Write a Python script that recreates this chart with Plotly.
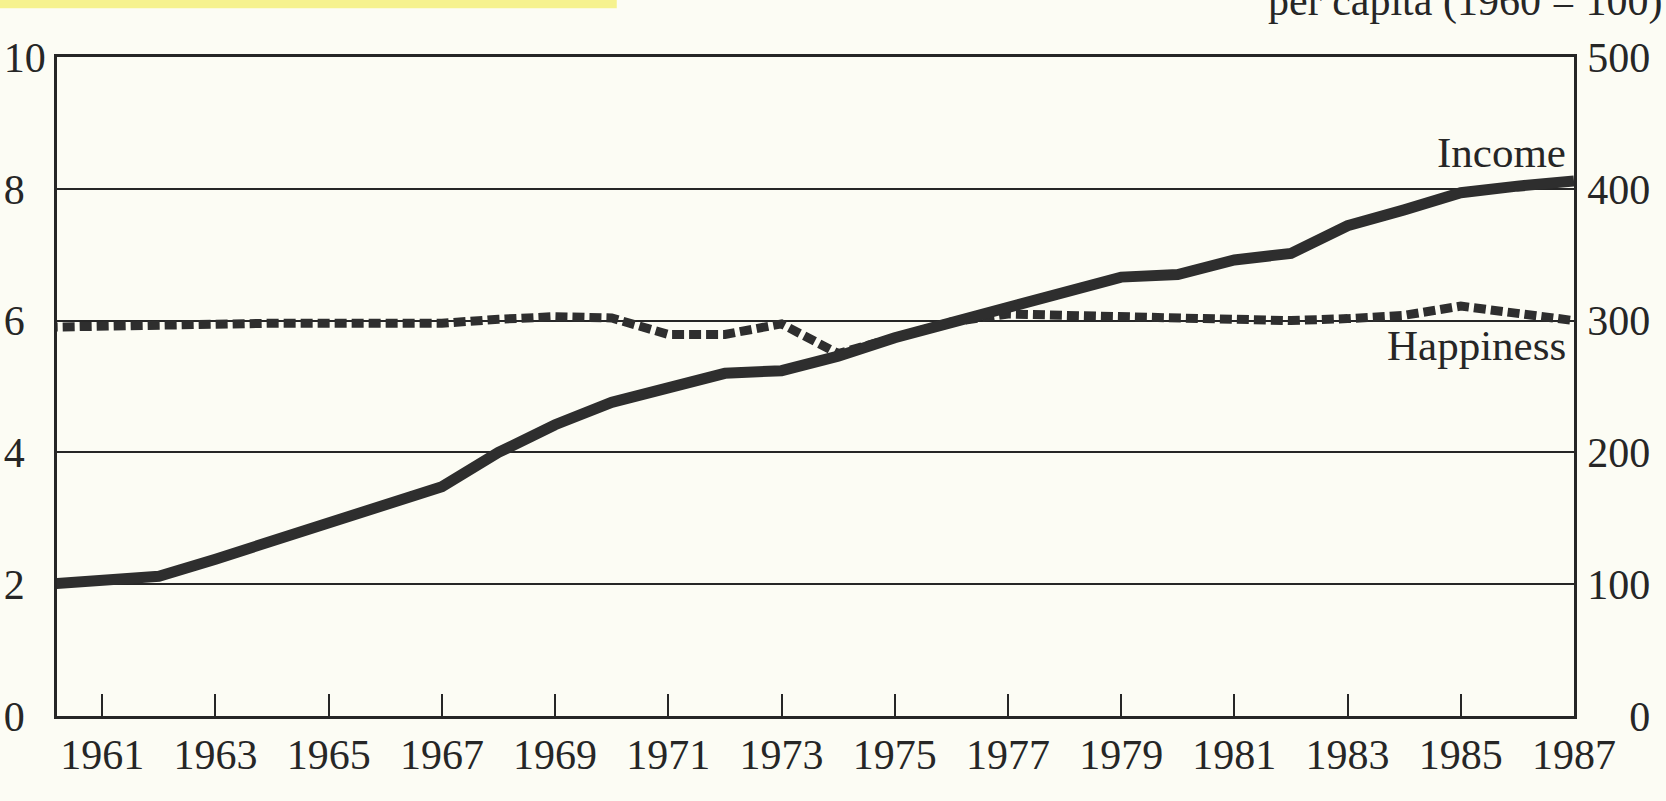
import plotly.graph_objects as go

# ---- data ----
years = list(range(1960, 1988))
# Happiness (left axis, 0-10)
happiness = [5.90, 5.92, 5.94, 5.96, 5.96, 5.96, 5.95, 5.96, 6.02, 6.06,
             6.04, 5.79, 5.79, 5.95, 5.50, 5.74, 5.98, 6.10, 6.08, 6.05,
             6.01, 6.00, 6.00, 6.03, 6.08, 6.22, 6.12, 6.00]
# Income per capita, index 1960 = 100 (right axis, 0-500)
income = [100, 102, 106, 119, 133, 146, 159, 174, 200, 221,
          238, 249, 260, 262, 273, 287, 299, 310, 322, 333,
          335, 346, 351, 372, 384, 397, 402, 406]

left_ticks = [0, 2, 4, 6, 8, 10]
right_ticks = [0, 100, 200, 300, 400, 500]
x_ticks = list(range(1961, 1988, 2))

FONT = "Liberation Serif, DejaVu Serif, serif"
INK = "#262626"
PAPER = "#fcfcf4"

# left labels read left-aligned, right labels right-aligned in the original
left_text = [f"{v:<2}".replace(" ", "\u2002") for v in left_ticks]
right_text = [f"{v:>3}".replace(" ", "\u2007") for v in right_ticks]

fig = go.Figure()
fig.add_trace(go.Scatter(x=years, y=income, yaxis="y2", mode="lines",
                         line=dict(color="#2e2e2e", width=11),
                         name="Income", showlegend=False))
fig.add_trace(go.Scatter(x=years, y=happiness, mode="lines",
                         line=dict(color="#2e2e2e", width=9, dash="12px,5px"),
                         name="Happiness", showlegend=False))

fig.update_layout(
    width=1666, height=801,
    margin=dict(l=57, r=92, t=57, b=85),
    paper_bgcolor=PAPER, plot_bgcolor=PAPER,
    font=dict(family=FONT, size=42, color=INK),
    xaxis=dict(range=[1960.2, 1987], tickvals=x_ticks, automargin=False,
               ticks="inside", ticklen=22, tickwidth=2, tickcolor=INK,
               showline=True, linewidth=2.5, linecolor=INK, mirror=True,
               showgrid=False, zeroline=False,
               tickfont=dict(family=FONT, size=42, color=INK)),
    yaxis=dict(range=[0, 10], tickvals=left_ticks, ticktext=left_text,
               automargin=False,
               showgrid=True, gridcolor=INK, gridwidth=2.2,
               showline=True, linewidth=2.5, linecolor=INK,
               zeroline=False, ticks="", ticklabelstandoff=0,
               tickfont=dict(family=FONT, size=42, color=INK)),
    yaxis2=dict(range=[0, 500], tickvals=right_ticks, ticktext=right_text,
                overlaying="y", automargin=False,
                side="right", showgrid=False, zeroline=False,
                showline=True, linewidth=2.5, linecolor=INK, ticks="",
                ticklabelstandoff=2,
                tickfont=dict(family=FONT, size=42, color=INK)),
    annotations=[
        dict(text="Income", x=1987, y=8.55, xref="x", yref="y",
             xanchor="right", yanchor="middle", xshift=-6, showarrow=False,
             font=dict(family=FONT, size=43, color=INK)),
        dict(text="Happiness", x=1987, y=5.62, xref="x", yref="y",
             xanchor="right", yanchor="middle", xshift=-6, showarrow=False,
             font=dict(family=FONT, size=43, color=INK)),
        dict(text="per capita (1960 = 100)", x=1.06, y=1.045,
             xref="paper", yref="paper", xanchor="right", yanchor="bottom",
             showarrow=False, font=dict(family=FONT, size=42, color=INK)),
    ],
    shapes=[
        dict(type="rect", xref="paper", yref="paper",
             x0=-0.04, x1=0.369, y0=1.074, y1=1.2,
             fillcolor="#f6f28e", line=dict(width=0), layer="below"),
    ],
)

fig.write_html("out.html",
               config={"displayModeBar": False},
               post_script="document.body.style.margin='0';"
                           "document.body.style.overflow='hidden';")
